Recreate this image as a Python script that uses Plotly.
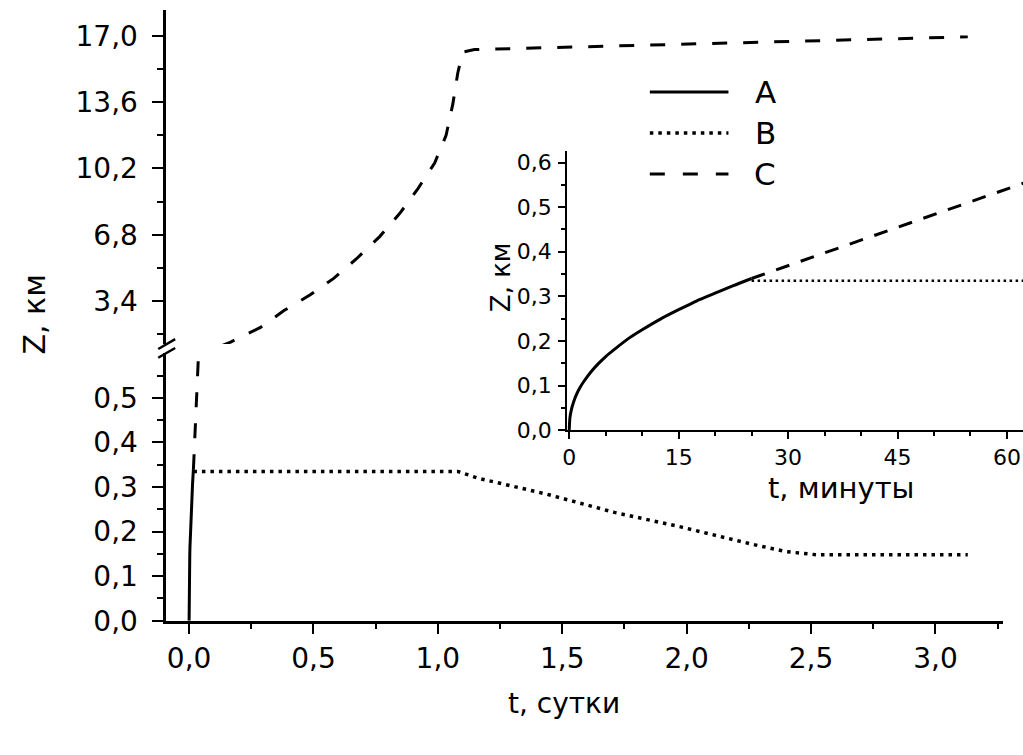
import plotly.graph_objects as go

# ---------------- data ----------------
# Series A (solid): growth during first ~25 minutes
A_t_min = [0, 0.1, 0.3, 0.6, 1, 1.5, 2, 3, 4, 5, 6.5, 8, 10, 12.5, 15, 17.5, 20, 22.5, 25]
A_z = [0, 0.028, 0.046, 0.063, 0.080, 0.096, 0.109, 0.131, 0.149, 0.165, 0.185, 0.204,
       0.225, 0.249, 0.270, 0.290, 0.307, 0.324, 0.34]

# Series B (dotted), main chart, t in days
B_t_day = [0.0174, 1.08, 1.16, 1.43, 1.71, 1.98, 2.26, 2.40, 2.52, 3.13]
B_z = [0.335, 0.335, 0.32, 0.285, 0.243, 0.21, 0.172, 0.155, 0.148, 0.148]

# Series C (dashed), main chart, t in days
C_t_day = [0.0174, 0.049, 0.10, 0.167, 0.287, 0.38, 0.487, 0.58, 0.672, 0.767,
           0.847, 0.92, 0.987, 1.033, 1.06, 1.08, 1.10, 1.147, 3.13]
C_z = [0.34, 0.6, 0.95, 1.30, 2.05, 2.9, 3.72, 4.55, 5.56, 6.72,
       7.9, 9.17, 10.48, 11.9, 13.5, 15.1, 16.17, 16.3, 16.95]

# Inset (t in minutes)
B_in_t = [25, 63]
B_in_z = [0.335, 0.335]
C_in_t = [25, 45, 63]
C_in_z = [0.34, 0.455, 0.558]

# tick labels
x_main_ticks = [0, 0.5, 1.0, 1.5, 2.0, 2.5, 3.0]
x_main_labels = ["0,0", "0,5", "1,0", "1,5", "2,0", "2,5", "3,0"]
y_low_ticks = [0, 0.1, 0.2, 0.3, 0.4, 0.5]
y_low_labels = ["0,0", "0,1", "0,2", "0,3", "0,4", "0,5"]
y_up_ticks = [3.4, 6.8, 10.2, 13.6, 17.0]
y_up_labels = ["3,4", "6,8", "10,2", "13,6", "17,0"]
x_in_ticks = [0, 15, 30, 45, 60]
x_in_labels = ["0", "15", "30", "45", "60"]
y_in_ticks = [0, 0.1, 0.2, 0.3, 0.4, 0.5, 0.6]
y_in_labels = ["0,0", "0,1", "0,2", "0,3", "0,4", "0,5", "0,6"]

# ---------------- layout helpers ----------------
W, H = 1023, 755
FONT = "DejaVu Sans"
def fx(px):
    return px / W
def fy(py):
    return 1 - py / H

A_t_day = [t / 1440 for t in A_t_min]

fig = go.Figure()

main_axes = [("x", "y"), ("x", "y2")]
for xa, ya in main_axes:
    fig.add_trace(go.Scatter(x=A_t_day, y=A_z, mode="lines", xaxis=xa, yaxis=ya,
                             line=dict(color="black", width=3), showlegend=False))
    fig.add_trace(go.Scatter(x=B_t_day, y=B_z, mode="lines", xaxis=xa, yaxis=ya,
                             line=dict(color="black", width=3.5, dash="3.5px,5px"), showlegend=False))
    fig.add_trace(go.Scatter(x=C_t_day, y=C_z, mode="lines", xaxis=xa, yaxis=ya,
                             line=dict(color="black", width=3, dash="15px,16px"), showlegend=False))

# inset
fig.add_trace(go.Scatter(x=A_t_min, y=A_z, mode="lines", xaxis="x2", yaxis="y3",
                         line=dict(color="black", width=3, shape="spline", smoothing=0.6),
                         showlegend=False))
fig.add_trace(go.Scatter(x=B_in_t, y=B_in_z, mode="lines", xaxis="x2", yaxis="y3",
                         line=dict(color="black", width=2.5, dash="2.5px,3.5px"), showlegend=False))
fig.add_trace(go.Scatter(x=C_in_t, y=C_in_z, mode="lines", xaxis="x2", yaxis="y3",
                         line=dict(color="black", width=3, dash="14px,12px"), showlegend=False))

tick_font = dict(family=FONT, size=28, color="black")
in_tick_font = dict(family=FONT, size=22, color="black")

common = dict(showline=True, linecolor="black", showgrid=False, zeroline=False,
              ticks="outside", tickcolor="black", tickmode="array")

fig.update_layout(
    width=W, height=H,
    margin=dict(l=0, r=0, t=0, b=0),
    paper_bgcolor="white", plot_bgcolor="white",
    xaxis=dict(domain=[fx(162), fx(1003)], range=[-0.092, 3.272], anchor="y",
               tickvals=x_main_ticks, ticktext=x_main_labels, ticklen=11, tickwidth=2,
               linewidth=2.5, tickfont=tick_font,
               minor=dict(tickvals=[0.25, 0.75, 1.25, 1.75, 2.25, 2.75, 3.25],
                          ticklen=6, tickwidth=2, ticks="outside", tickcolor="black"),
               **common),
    yaxis=dict(domain=[fy(635), fy(361)], range=[0, 0.601], anchor="x",
               tickvals=y_low_ticks, ticktext=y_low_labels, ticklen=11, tickwidth=2,
               linewidth=2.5, tickfont=tick_font, ticklabelstandoff=9,
               minor=dict(tickvals=[0.05, 0.15, 0.25, 0.35, 0.45, 0.55],
                          ticklen=6, tickwidth=2, ticks="outside", tickcolor="black"),
               **common),
    yaxis2=dict(domain=[fy(352), fy(10)], range=[1.195, 18.34], anchor="x",
                tickvals=y_up_ticks, ticktext=y_up_labels, ticklen=11, tickwidth=2,
                linewidth=2.5, tickfont=tick_font, ticklabelstandoff=9,
                minor=dict(tickvals=[1.7, 5.1, 8.5, 11.9, 15.3],
                           ticklen=6, tickwidth=2, ticks="outside", tickcolor="black"),
                **common),
    xaxis2=dict(domain=[fx(565), fx(1023)], range=[-0.27, 62.2], anchor="y3",
                tickvals=x_in_ticks, ticktext=x_in_labels, ticklen=7, tickwidth=1.5,
                linewidth=2, tickfont=in_tick_font,
                minor=dict(tickvals=[5, 10, 20, 25, 35, 40, 50, 55],
                           ticklen=4, tickwidth=1.5, ticks="outside", tickcolor="black"),
                **common),
    yaxis3=dict(domain=[fy(440), fy(154)], range=[0, 0.627], anchor="x2",
                tickvals=y_in_ticks, ticktext=y_in_labels, ticklen=7, tickwidth=1.5,
                linewidth=2, tickfont=in_tick_font, ticklabelstandoff=2,
                minor=dict(tickvals=[0.05, 0.15, 0.25, 0.35, 0.45, 0.55],
                           ticklen=4, tickwidth=1.5, ticks="outside", tickcolor="black"),
                **common),
)

def label(text, px, py, size, angle=0):
    return dict(text=text, x=fx(px), y=fy(py), xref="paper", yref="paper",
                xanchor="center", yanchor="middle", textangle=angle, showarrow=False,
                font=dict(family=FONT, size=size, color="black"))

ann = [
    label("Z, км", 30, 322, 30, -90),
    label("t, сутки", 562, 720, 28),
    label("Z, км", 498, 284, 26, -90),
    label("t, минуты", 840, 499, 29),
]

# legend (drawn manually)
legend_names = ["A", "B", "C"]
legend_dash = ["solid", "3.5px,5px", "15px,18px"]
legend_width = [3, 3.5, 3]
legend_y = [94, 136, 178]
shapes = []
for name, dash, lw, ly in zip(legend_names, legend_dash, legend_width, legend_y):
    shapes.append(dict(type="line", xref="paper", yref="paper",
                       x0=fx(648), x1=fx(727), y0=fy(ly), y1=fy(ly),
                       line=dict(color="black", width=lw, dash=dash)))
    ann.append(label(name, 764, ly, 31))

# axis break marks
for y0, y1 in [(357, 347), (366, 356)]:
    shapes.append(dict(type="line", xref="paper", yref="paper",
                       x0=fx(154), x1=fx(171), y0=fy(y0), y1=fy(y1),
                       line=dict(color="black", width=2.5)))

fig.update_layout(annotations=ann, shapes=shapes)

fig.write_html("out.html")
